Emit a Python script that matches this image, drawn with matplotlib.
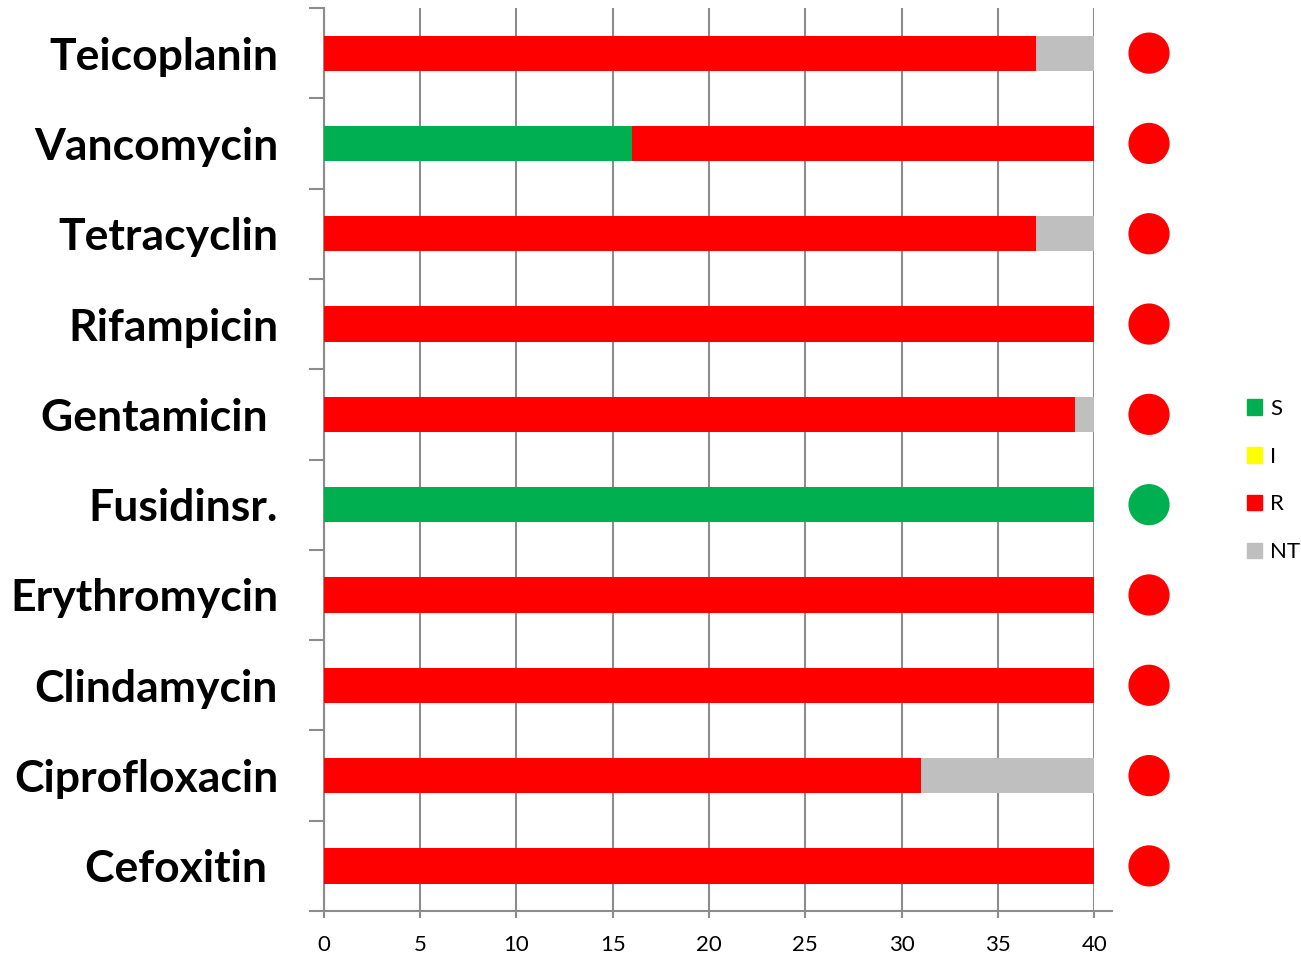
"""
Antibiotic susceptibility profile as horizontal stacked bars.
"""
import matplotlib.pyplot as plt
from matplotlib.patches import Patch

plt.rcParams['font.family'] = ['Lato', 'DejaVu Sans']

# antibiotics, top to bottom
ANTIBIOTICS = ['Teicoplanin', 'Vancomycin', 'Tetracyclin', 'Rifampicin',
               'Gentamicin ', 'Fusidinsr.', 'Erythromycin', 'Clindamycin',
               'Ciprofloxacin', 'Cefoxitin ']
# number of isolates per result class
S = [0, 16, 0, 0, 0, 40, 0, 0, 0, 0]
I = [0, 0, 0, 0, 0, 0, 0, 0, 0, 0]
R = [37, 24, 37, 40, 39, 0, 40, 40, 31, 40]
NT = [3, 0, 3, 0, 1, 0, 0, 0, 9, 0]
# overall interpretation marker next to each bar
OVERALL = ['R', 'R', 'R', 'R', 'R', 'S', 'R', 'R', 'R', 'R']

COLORS = {'S': '#00B050', 'I': '#FFFF00', 'R': '#FF0000', 'NT': '#BFBFBF'}
GRID = '#8C8C8C'

fig = plt.figure(figsize=(13.01, 9.59), dpi=100)
ax = fig.add_axes([0.249, 0.05, 0.592, 0.9417])

pos = list(range(len(ANTIBIOTICS)))
left = [0] * len(ANTIBIOTICS)
for name, vals in [('S', S), ('I', I), ('R', R), ('NT', NT)]:
    ax.barh(pos, vals, left=left, height=0.39, color=COLORS[name],
            linewidth=0, zorder=3)
    left = [a + b for a, b in zip(left, vals)]

# circles with the overall result
ax.scatter([42.85] * len(pos), pos, s=880,
           c=[COLORS[o] for o in OVERALL], linewidths=0, clip_on=False,
           zorder=4)

ax.set_xlim(0, 40)
ax.set_ylim(len(ANTIBIOTICS) - 0.5, -0.5)
ax.set_xticks(range(0, 41, 5))
ax.set_yticks(pos)
ax.set_yticklabels(ANTIBIOTICS, fontsize=32, fontweight='bold')
ax.set_yticks([p - 0.5 for p in range(len(pos) + 1)], minor=True)

ax.tick_params(axis='y', which='major', length=0, pad=33)
ax.tick_params(axis='y', which='minor', length=11, width=1.5, color=GRID,
               direction='out')
ax.tick_params(axis='x', length=5, width=1.5, color=GRID, pad=12,
               labelsize=16)

ax.grid(axis='x', color=GRID, linewidth=1.5, zorder=0)
for side in ['top', 'right', 'bottom']:
    ax.spines[side].set_visible(False)
ax.spines['left'].set_color(GRID)
ax.spines['left'].set_linewidth(1.5)
# horizontal axis line, running a bit past the last gridline
ax.plot([0, 1.023], [0, 0], transform=ax.transAxes, color=GRID,
        linewidth=1.5, clip_on=False, zorder=2)

handles = [Patch(color=COLORS[k]) for k in ['S', 'I', 'R', 'NT']]
fig.legend(handles, ['S', 'I', 'R', 'NT'], loc='center left',
           bbox_to_anchor=(0.9515, 0.499), frameon=False, fontsize=16,
           handlelength=0.7, handleheight=0.7, handletextpad=0.35,
           labelspacing=1.25, borderaxespad=0)

fig.savefig('out.png', dpi=100)
